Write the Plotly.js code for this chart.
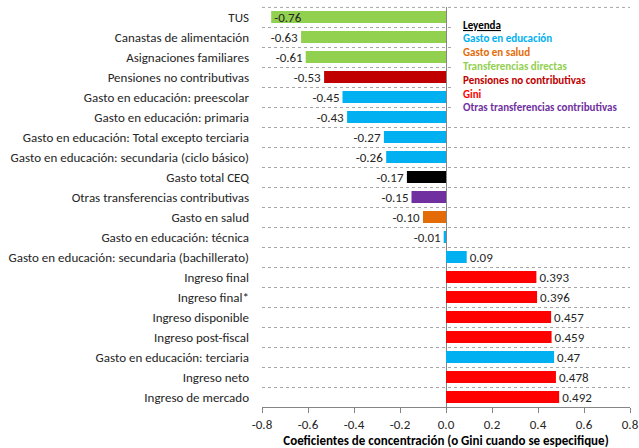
<!DOCTYPE html>
<html>
<head>
<meta charset="utf-8">
<script src="https://cdn.plot.ly/plotly-3.0.1.min.js"></script>
<style>html,body{margin:0;padding:0;background:#fff;}#chart{width:639px;height:448px;}</style>
</head>
<body>
<div id="chart"></div>
<script>
const categories = [
  "TUS",
  "Canastas de alimentación",
  "Asignaciones familiares",
  "Pensiones no contributivas",
  "Gasto en educación: preescolar",
  "Gasto en educación: primaria",
  "Gasto en educación: Total excepto terciaria",
  "Gasto en educación: secundaria (ciclo básico)",
  "Gasto total CEQ",
  "Otras transferencias contributivas",
  "Gasto en salud",
  "Gasto en educación: técnica",
  "Gasto en educación: secundaria (bachillerato)",
  "Ingreso final",
  "Ingreso final*",
  "Ingreso disponible",
  "Ingreso post-fiscal",
  "Gasto en educación: terciaria",
  "Ingreso neto",
  "Ingreso de mercado"
];
const values = [-0.76, -0.63, -0.61, -0.53, -0.45, -0.43, -0.27, -0.26, -0.17, -0.15, -0.10, -0.01, 0.09, 0.393, 0.396, 0.457, 0.459, 0.47, 0.478, 0.492];
const valueLabels = ["-0.76", "-0.63", "-0.61", "-0.53", "-0.45", "-0.43", "-0.27", "-0.26", "-0.17", "-0.15", "-0.10", "-0.01", "0.09", "0.393", "0.396", "0.457", "0.459", "0.47", "0.478", "0.492"];
const groups = ["transf", "transf", "transf", "pens", "educ", "educ", "educ", "educ", "total", "otras", "salud", "educ", "educ", "gini", "gini", "gini", "gini", "educ", "gini", "gini"];
const legendTitle = "Leyenda";
const legendGroups = ["educ", "salud", "transf", "pens", "gini", "otras"];
const legendLabels = ["Gasto en educación", "Gasto en salud", "Transferencias directas", "Pensiones no contributivas", "Gini", "Otras transferencias contributivas"];
const xTicks = [-0.8, -0.6, -0.4, -0.2, 0.0, 0.2, 0.4, 0.6, 0.8];
const xTickLabels = ["-0.8", "-0.6", "-0.4", "-0.2", "0.0", "0.2", "0.4", "0.6", "0.8"];
const xTitle = "Coeficientes de concentración (o Gini cuando se especifique)";

const groupColors = {
  educ: "#00B0F0",
  salud: "#E36C09",
  transf: "#92D050",
  pens: "#C00000",
  gini: "#FF0000",
  otras: "#7030A0",
  total: "#000000"
};
const FONT = "Carlito, Calibri, Lato, 'Noto Sans', sans-serif";
const n = categories.length;
const TEXT_COLOR = "#262626";
const GRID_COLOR = "#A6A6A6";

const bars = {
  type: "bar",
  orientation: "h",
  x: values,
  y: categories,
  marker: { color: groups.map(g => groupColors[g]) },
  text: valueLabels,
  textposition: values.map((v, i) => i === 0 ? "inside" : "outside"),
  insidetextanchor: "end",
  constraintext: "none",
  textfont: { family: FONT, size: 13, color: TEXT_COLOR },
  insidetextfont: { family: FONT, size: 13, color: TEXT_COLOR },
  outsidetextfont: { family: FONT, size: 13, color: TEXT_COLOR },
  cliponaxis: false,
  hoverinfo: "x+y",
  showlegend: false
};
// invisible trace carrying the boundary gridlines axis
const gridTrace = {
  type: "scatter",
  x: [0],
  y: [0],
  yaxis: "y2",
  mode: "none",
  hoverinfo: "skip",
  showlegend: false
};

const annotations = [{
  xref: "paper", yref: "paper", x: 0.541, y: 0.955, xanchor: "left", yanchor: "middle",
  text: "<b><u>" + legendTitle + "</u></b>", showarrow: false,
  font: { family: FONT, size: 11, color: "#000000" }
}];
legendLabels.forEach((lab, i) => {
  annotations.push({
    xref: "paper", yref: "paper", x: 0.541, y: 0.955 - (i + 1) * 0.0345, xanchor: "left", yanchor: "middle",
    text: "<b>" + lab + "</b>", showarrow: false,
    font: { family: FONT, size: 11, color: groupColors[legendGroups[i]] }
  });
});

const layout = {
  width: 639, height: 448,
  margin: { l: 262, r: 9, t: 7, b: 41, pad: 0 },
  paper_bgcolor: "#ffffff",
  plot_bgcolor: "#ffffff",
  bargap: 0.4,
  font: { family: FONT, color: TEXT_COLOR },
  xaxis: {
    range: [-0.8, 0.8],
    tickvals: xTicks,
    ticktext: xTickLabels,
    showgrid: false,
    zeroline: true,
    zerolinecolor: "#868686",
    zerolinewidth: 1,
    showline: true,
    linecolor: "#868686",
    ticks: "outside",
    ticklen: 5,
    tickcolor: "#868686",
    tickfont: { family: FONT, size: 13, color: TEXT_COLOR },
    title: { text: "<b>" + xTitle + "</b>", font: { family: FONT, size: 13, color: "#000000" }, standoff: 5 },
    fixedrange: true
  },
  yaxis: {
    type: "category",
    range: [n - 0.5, -0.5],
    showgrid: false,
    zeroline: false,
    showline: false,
    ticks: "",
    ticklabelstandoff: 12,
    tickfont: { family: FONT, size: 13, color: TEXT_COLOR },
    fixedrange: true
  },
  yaxis2: {
    overlaying: "y",
    range: [n - 0.5, -0.5],
    tick0: 0.5,
    dtick: 1,
    showgrid: true,
    gridcolor: GRID_COLOR,
    griddash: "dot",
    gridwidth: 1,
    showticklabels: false,
    zeroline: false,
    showline: false,
    ticks: "",
    fixedrange: true
  },
  shapes: [
    {
      type: "rect", xref: "paper", yref: "paper", x0: 0.52, x1: 1.0, y0: 0.725, y1: 0.99,
      fillcolor: "#ffffff", line: { width: 0 }, layer: "above"
    },
    {
      type: "line", xref: "paper", yref: "paper", x0: 0, x1: 1, y0: 0.999, y1: 0.999,
      line: { color: GRID_COLOR, width: 1, dash: "dot" }, layer: "above"
    }
  ],
  annotations: annotations
};

Plotly.newPlot("chart", [gridTrace, bars], layout, { displayModeBar: false, staticPlot: true });
</script>
</body>
</html>
